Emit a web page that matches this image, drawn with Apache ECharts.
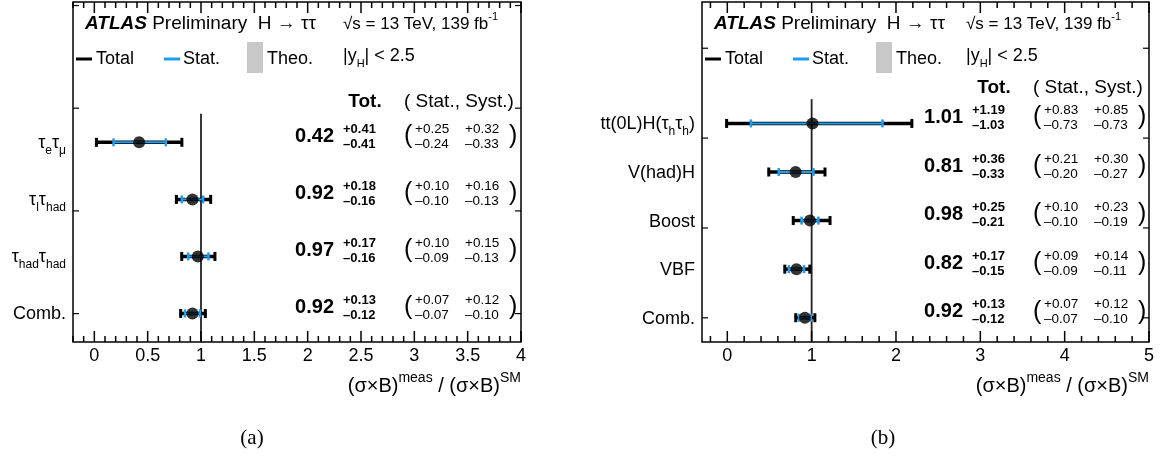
<!DOCTYPE html>
<html>
<head>
<meta charset="utf-8">
<title>ATLAS H tautau</title>
<script src="https://cdn.jsdelivr.net/npm/echarts@6/dist/echarts.min.js"></script>
</head>
<body style="margin:0;background:#fff">
<div id="main" style="width:1172px;height:461px;"></div>
<script type="text/javascript">
// panel (a): decay channels, listed top row first
var labelsA = ['τ_{e}τ_{μ}', 'τ_{l}τ_{had}', 'τ_{had}τ_{had}', 'Comb.'];
var centralA = [0.42, 0.92, 0.97, 0.92];
var totUpA = [0.41, 0.18, 0.17, 0.13];
var totDnA = [0.41, 0.16, 0.16, 0.12];
var statUpA = [0.25, 0.10, 0.10, 0.07];
var statDnA = [0.24, 0.10, 0.09, 0.07];
var systUpA = [0.32, 0.16, 0.15, 0.12];
var systDnA = [0.33, 0.13, 0.13, 0.10];
var ticksA = [0, 0.5, 1, 1.5, 2, 2.5, 3, 3.5, 4];

// panel (b): production modes
var labelsB = ['tt(0L)H(τ_{h}τ_{h})', 'V(had)H', 'Boost', 'VBF', 'Comb.'];
var centralB = [1.01, 0.81, 0.98, 0.82, 0.92];
var totUpB = [1.19, 0.36, 0.25, 0.17, 0.13];
var totDnB = [1.03, 0.33, 0.21, 0.15, 0.12];
var statUpB = [0.83, 0.21, 0.10, 0.09, 0.07];
var statDnB = [0.73, 0.20, 0.10, 0.09, 0.07];
var systUpB = [0.85, 0.30, 0.23, 0.14, 0.12];
var systDnB = [0.73, 0.27, 0.19, 0.11, 0.10];
var ticksB = [0, 1, 2, 3, 4, 5];

var FONT = '"Liberation Sans", Arial, sans-serif';
var BLUE = '#1e9cf0';

function rich(s) {
    return '{m|' + s.replace(/_\{([^}]*)\}/g, '}{sub|$1}{m|') + '}';
}
function fmt(v) { return v.toFixed(2); }

var panels = [
    {
        name: 'a', labels: labelsA, central: centralA, totUp: totUpA, totDn: totDnA,
        statUp: statUpA, statDn: statDnA, systUp: systUpA, systDn: systDnA, ticks: ticksA,
        grid: { left: 73, top: 2, width: 448, height: 340 },
        xMin: -0.2, xMax: 4, minor: 0.1, yMax: 5.46, yTicks: [0, 1.8, 3.6, 5.4],
        headY: 102, sqrtX: 270
    },
    {
        name: 'b', labels: labelsB, central: centralB, totUp: totUpB, totDn: totDnB,
        statUp: statUpB, statDn: statDnB, systUp: systUpB, systDn: systDnB, ticks: ticksB,
        grid: { left: 702, top: 2, width: 447, height: 340 },
        xMin: -0.3, xMax: 5, minor: 0.2, yMax: 6.5, yTicks: [0, 1.85, 3.7, 5.55],
        headY: 88, sqrtX: 264
    }
];

// tick list for the frame: [value, isMajor]
function frameTicks(p) {
    var out = [];
    var k0 = Math.ceil(p.xMin / p.minor - 1e-6);
    var k1 = Math.floor(p.xMax / p.minor + 1e-6);
    for (var k = k0; k <= k1; k++) {
        var v = Math.round(k * p.minor * 1000) / 1000;
        out.push([v, p.ticks.indexOf(v) >= 0 ? 1 : 0]);
    }
    return out;
}

function txt(x, y, text, size, opt) {
    opt = opt || {};
    return {
        type: 'text', x: x, y: y, z: 10,
        style: {
            text: text, fill: '#000', fontFamily: FONT, fontSize: size,
            fontWeight: opt.bold ? 'bold' : 'normal', fontStyle: opt.italic ? 'italic' : 'normal',
            align: opt.align || 'left', verticalAlign: 'middle',
            textAlign: opt.align || 'left', textVerticalAlign: 'middle',
            rich: opt.rich
        }
    };
}

function seg(x1, y1, x2, y2, color, w) {
    return { type: 'line', shape: { x1: x1, y1: y1, x2: x2, y2: y2 }, style: { stroke: color, lineWidth: w } };
}

function box(x, y, w, h) {
    return { type: 'rect', z: 100, shape: { x: x, y: y, width: w, height: h }, style: { fill: '#000' } };
}

function rowRenderer(p) {
    var n = p.labels.length;
    return function (params, api) {
        var i = params.dataIndex;
        var L = params.coordSys.x;
        var yv = api.value(1);
        var c = p.central[i];
        var lo = api.coord([c - p.totDn[i], yv]);
        var hi = api.coord([c + p.totUp[i], yv]);
        var slo = api.coord([c - p.statDn[i], yv]);
        var shi = api.coord([c + p.statUp[i], yv]);
        var y = lo[1];
        var ty = y - 6;
        var ch = [];
        if (i === 0) {
            var a = api.coord([1, -0.5]), b = api.coord([1, n - 0.5]);
            ch.push(seg(a[0], a[1], b[0], b[1], '#222', 1.8));
        }
        // total band
        ch.push(seg(lo[0], y, hi[0], y, '#000', 3.5));
        ch.push(seg(lo[0] + 1, y - 4.5, lo[0] + 1, y + 4.5, '#000', 3));
        ch.push(seg(hi[0] - 1, y - 4.5, hi[0] - 1, y + 4.5, '#000', 3));
        // stat band
        ch.push(seg(slo[0], y, shi[0], y, BLUE, 2));
        ch.push(seg(slo[0], y - 4, slo[0], y + 4, BLUE, 2.5));
        ch.push(seg(shi[0], y - 4, shi[0], y + 4, BLUE, 2.5));
        // row label
        ch.push(txt(L - 7, y + 1, rich(p.labels[i]), 18, {
            align: 'right',
            rich: {
                m: { fontFamily: FONT, fontSize: 18, lineHeight: 26, verticalAlign: 'middle' },
                sub: { fontFamily: FONT, fontSize: 12, lineHeight: 12, verticalAlign: 'bottom' }
            }
        }));
        // numbers
        ch.push(txt(L + 261, ty, fmt(c), 20, { bold: true, align: 'right' }));
        ch.push(txt(L + 270, y - 13, '+' + fmt(p.totUp[i]), 13, { bold: true }));
        ch.push(txt(L + 270, y + 2, '–' + fmt(p.totDn[i]), 13, { bold: true }));
        ch.push(txt(L + 331, ty, '(', 25));
        ch.push(txt(L + 342, y - 13, '+' + fmt(p.statUp[i]), 13.5));
        ch.push(txt(L + 342, y + 2, '–' + fmt(p.statDn[i]), 13.5));
        ch.push(txt(L + 392, y - 13, '+' + fmt(p.systUp[i]), 13.5));
        ch.push(txt(L + 392, y + 2, '–' + fmt(p.systDn[i]), 13.5));
        ch.push(txt(L + 436, ty, ')', 25));
        return { type: 'group', children: ch };
    };
}

var grids = [], xAxes = [], yAxes = [], series = [], graphics = [];

panels.forEach(function (p, k) {
    var n = p.labels.length;
    grids.push({
        left: p.grid.left, top: p.grid.top, width: p.grid.width, height: p.grid.height,
        show: true, borderColor: '#000', borderWidth: 1.5, backgroundColor: 'transparent'
    });
    xAxes.push({
        type: 'value', gridIndex: k, position: 'bottom', min: p.xMin, max: p.xMax,
        axisLine: { show: false, onZero: false }, splitLine: { show: false }, axisTick: { show: false },
        axisLabel: { show: true, customValues: p.ticks, color: '#000', fontFamily: FONT, fontSize: 18, margin: 5 }
    });
    yAxes.push({
        type: 'value', gridIndex: k, position: 'left', min: -0.5, max: p.yMax,
        axisLine: { show: false, onZero: false }, splitLine: { show: false },
        axisTick: { show: false }, axisLabel: { show: false }
    });
    var data = p.central.map(function (c, i) { return [c, n - 1 - i]; });
    series.push({
        type: 'custom', xAxisIndex: k, yAxisIndex: k, clip: false, z: 2,
        renderItem: rowRenderer(p), data: data, silent: true
    });
    series.push({
        type: 'scatter', xAxisIndex: k, yAxisIndex: k, z: 5, symbol: 'circle', symbolSize: 12,
        itemStyle: { color: '#000' }, data: data, silent: true
    });

    var L = p.grid.left, R = p.grid.left + p.grid.width;
    graphics.push(txt(L + 12, 24, '{b|ATLAS} Preliminary  H → ττ', 19, {
        rich: {
            b: { fontFamily: FONT, fontSize: 19, fontWeight: 'bold', fontStyle: 'italic' }
        }
    }));
    graphics.push(txt(L + p.sqrtX, 24, '{m|√s = 13 TeV, 139 fb}{sup|-1}', 17, {
        rich: {
            m: { fontFamily: FONT, fontSize: 17, lineHeight: 26 },
            sup: { fontFamily: FONT, fontSize: 11, lineHeight: 11, verticalAlign: 'top' }
        }
    }));
    graphics.push(txt(L + p.sqrtX, 56, '{m||y}{sub|H}{m|| < 2.5}', 18, {
        rich: {
            m: { fontFamily: FONT, fontSize: 18, lineHeight: 26 },
            sub: { fontFamily: FONT, fontSize: 11, lineHeight: 11, verticalAlign: 'bottom' }
        }
    }));
    // legend
    graphics.push(seg(L + 3, 59, L + 19, 59, '#000', 3));
    graphics.push(txt(L + 23, 59, 'Total', 18));
    graphics.push(seg(L + 91, 59, L + 107, 59, BLUE, 3));
    graphics.push(txt(L + 110, 59, 'Stat.', 18));
    graphics.push({ type: 'rect', shape: { x: L + 174, y: 42, width: 16, height: 31 }, style: { fill: '#c8c8c8' } });
    graphics.push(txt(L + 194, 59, 'Theo.', 18));
    // table header
    graphics.push(txt(L + 292, p.headY, 'Tot.', 19, { bold: true, align: 'center' }));
    graphics.push(txt(L + 331, p.headY, '( Stat., Syst.)', 19));
    // axis title
    graphics.push(txt(R, 386, '{m|(σ×B)}{sup|meas}{m| / (σ×B)}{sup|SM}', 20, {
        align: 'right',
        rich: {
            m: { fontFamily: FONT, fontSize: 20, lineHeight: 30 },
            sup: { fontFamily: FONT, fontSize: 14, lineHeight: 12, verticalAlign: 'top' }
        }
    }));
    graphics.push({
        type: 'text', x: k === 0 ? 252 : 883, y: 438,
        style: { text: '(' + p.name + ')', fill: '#000', fontFamily: '"Liberation Serif", "Times New Roman", serif',
            fontSize: 21, align: 'center', verticalAlign: 'middle', textAlign: 'center', textVerticalAlign: 'middle' }
    });

    // inward frame ticks on all four sides, mapped with the same linear scale as the axes
    var bot = p.grid.top + p.grid.height, tp = p.grid.top;
    frameTicks(p).forEach(function (t) {
        var x = L + (t[0] - p.xMin) / (p.xMax - p.xMin) * p.grid.width;
        var len = t[1] ? 11 : 6;
        graphics.push(box(x - 0.75, bot - len, 1.5, len));
        graphics.push(box(x - 0.75, tp, 1.5, len));
    });
    p.yTicks.forEach(function (v) {
        var yy = bot - (v + 0.5) / (p.yMax + 0.5) * p.grid.height;
        graphics.push(box(L, yy - 0.5, 6, 1.2));
        graphics.push(box(R - 6, yy - 0.5, 6, 1.2));
    });
});

var myChart = echarts.init(document.getElementById('main'));
myChart.setOption({
    animation: false,
    backgroundColor: '#fff',
    grid: grids,
    xAxis: xAxes,
    yAxis: yAxes,
    series: series,
    graphic: graphics
});
</script>
</body>
</html>
